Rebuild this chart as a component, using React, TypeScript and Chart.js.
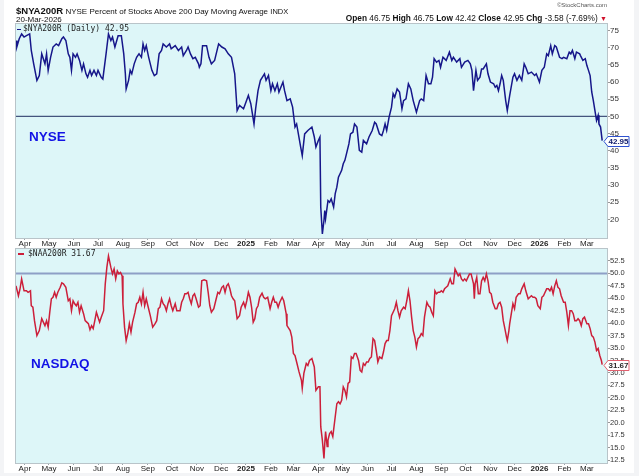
import React, { useEffect, useRef } from 'react';
import { Chart, registerables } from 'chart.js';

Chart.register(...registerables);

const FONT = '"Liberation Sans", Arial, Helvetica, sans-serif';
const MONO = '"DejaVu Sans Mono", monospace';

// ---------- text ----------
const symbolTop = '$NYA200R';
const symbolBottom = '$NAA200R';
const titleText = 'NYSE Percent of Stocks Above 200 Day Moving Average';
const exchangeText = 'INDX';
const dateText = '20-Mar-2026';
const creditText = '\u00A9StockCharts.com';
const ohlcOpen = 46.75;
const ohlcHigh = 46.75;
const ohlcLow = 42.42;
const ohlcClose = 42.95;
const ohlcChg = -3.58;
const ohlcChgPct = -7.69;
const panelNameTop = 'NYSE';
const panelNameBottom = 'NASDAQ';

// ---------- time axis ----------
const BASE_DATE = '2024-04-01';
const AXIS_START = '2024-03-21';
const AXIS_END = '2026-03-26';
const monthStarts = [
  '2024-04-01', '2024-05-01', '2024-06-01', '2024-07-01', '2024-08-01', '2024-09-01',
  '2024-10-01', '2024-11-01', '2024-12-01', '2025-01-01', '2025-02-01', '2025-03-01',
  '2025-04-01', '2025-05-01', '2025-06-01', '2025-07-01', '2025-08-01', '2025-09-01',
  '2025-10-01', '2025-11-01', '2025-12-01', '2026-01-01', '2026-02-01', '2026-03-01',
];
const monthLabels = [
  'Apr', 'May', 'Jun', 'Jul', 'Aug', 'Sep', 'Oct', 'Nov', 'Dec', '2025', 'Feb', 'Mar',
  'Apr', 'May', 'Jun', 'Jul', 'Aug', 'Sep', 'Oct', 'Nov', 'Dec', '2026', 'Feb', 'Mar',
];

// ---------- NYSE series (calendar days after 2024-04-01, percent) ----------
const nyseDays = [
  -11, -10, -7, -4, -1, 2, 6, 8, 11, 15,
  18, 21, 25, 27, 29, 32, 35, 39, 42, 46,
  48, 51, 54, 56, 58, 60, 63, 65, 68, 71,
  73, 76, 78, 81, 83, 86, 89, 91, 95, 97,
  101, 104, 107, 109, 112, 116, 120, 123, 125, 126,
  129, 131, 133, 136, 139, 142, 145, 147, 149, 151,
  154, 158, 161, 164, 167, 170, 172, 176, 180, 182,
  187, 191, 195, 197, 201, 203, 206, 209, 212, 216,
  217, 219, 221, 226, 229, 232, 236, 241, 245, 249,
  253, 257, 261, 264, 267, 272, 278, 281, 285, 287,
  290, 293, 298, 300, 303, 306, 308, 311, 314, 316,
  321, 323, 326, 330, 333, 336, 338, 343, 345, 348,
  352, 357, 360, 362, 365, 367, 368, 370, 372, 373,
  374, 377, 379, 381, 384, 386, 388, 390, 392, 394,
  396, 398, 400, 403, 405, 408, 410, 413, 416, 419,
  421, 425, 428, 432, 435, 437, 441, 444, 446, 448,
  450, 453, 456, 458, 460, 463, 466, 469, 471, 474,
  477, 480, 483, 487, 491, 493, 496, 499, 502, 505,
  507, 509, 512, 515, 517, 520, 524, 528, 531, 533,
  537, 541, 543, 547, 551, 554, 556, 558, 561, 563,
  566, 568, 570, 574, 576, 579, 583, 585, 587, 589,
  591, 593, 595, 598, 600, 603, 607, 609, 612, 615,
  618, 621, 623, 626, 630, 634, 636, 640, 643, 646,
  649, 651, 654, 656, 659, 661, 665, 668, 670, 674,
  677, 679, 681, 684, 686, 690, 691, 694, 697, 699,
  701, 703, 705, 707, 709, 711, 713, 714, 716, 718,
];
const nyseValues = [
  72.1, 70.2, 72.6, 74.0, 73.1, 73.5, 74.0, 69.2, 65.3, 60.5,
  61.9, 68.2, 65.3, 68.2, 63.4, 67.2, 70.2, 71.1, 70.6, 72.6,
  73.1, 72.1, 68.2, 67.2, 63.4, 68.2, 67.2, 68.2, 66.3, 63.4,
  65.3, 62.4, 61.4, 63.4, 61.9, 63.4, 61.9, 63.4, 61.4, 60.9,
  68.2, 74.0, 72.1, 73.1, 70.2, 73.5, 73.5, 68.2, 62.4, 58.0,
  60.5, 63.4, 62.4, 65.3, 67.2, 68.2, 67.2, 71.1, 69.2, 70.6,
  67.2, 63.4, 61.9, 62.4, 68.2, 69.2, 71.1, 70.2, 71.1, 69.7,
  70.6, 69.2, 70.2, 67.7, 69.2, 70.2, 68.2, 66.8, 67.2, 65.3,
  64.3, 65.3, 70.6, 70.6, 67.2, 65.3, 66.3, 71.1, 70.2, 69.7,
  68.2, 67.2, 62.4, 51.7, 53.2, 52.2, 56.1, 53.7, 47.8, 52.2,
  57.5, 60.5, 62.4, 60.5, 61.9, 57.5, 59.5, 57.5, 59.5, 57.1,
  60.0, 57.5, 54.6, 55.1, 52.7, 46.9, 47.8, 41.1, 38.6, 44.9,
  45.9, 46.9, 44.0, 41.1, 43.0, 44.0, 23.6, 15.8, 19.7, 22.6,
  20.2, 25.5, 25.0, 26.0, 23.6, 27.5, 29.4, 32.3, 33.3, 34.3,
  36.2, 37.2, 39.1, 42.0, 44.9, 45.4, 47.8, 46.9, 40.1, 39.6,
  43.0, 42.0, 44.0, 45.9, 48.3, 47.8, 44.9, 44.4, 45.9, 47.8,
  45.9, 49.8, 52.7, 56.6, 55.6, 58.0, 57.1, 52.2, 54.6, 55.1,
  59.5, 58.0, 54.6, 51.2, 54.6, 55.1, 54.6, 61.9, 59.5, 59.5,
  61.4, 66.8, 65.8, 66.3, 64.3, 67.2, 66.3, 68.7, 66.3, 67.2,
  65.8, 66.8, 64.3, 65.8, 66.3, 65.3, 63.4, 57.5, 63.4, 60.5,
  61.4, 63.8, 63.8, 65.3, 62.4, 60.0, 59.5, 58.5, 59.0, 57.5,
  59.5, 61.9, 60.5, 54.6, 51.7, 56.1, 61.4, 62.4, 60.5, 61.9,
  60.5, 65.3, 64.3, 62.4, 62.9, 61.9, 62.4, 60.0, 63.4, 64.3,
  68.2, 67.7, 70.6, 68.2, 70.6, 70.2, 67.2, 66.8, 67.2, 66.8,
  68.7, 68.2, 69.2, 66.8, 68.7, 68.2, 67.7, 66.3, 66.8, 64.8,
  63.4, 61.9, 57.1, 54.6, 51.7, 48.8, 50.3, 47.8, 46.9, 42.95,
];
const nyseTicks = [20, 25, 30, 35, 40, 45, 50, 55, 60, 65, 70, 75];

// ---------- NASDAQ series (calendar days after 2024-04-01, percent) ----------
const nasdaqDays = [
  -11, -8, -6, -4, -1, 2, 4, 7, 8, 10,
  12, 15, 18, 21, 23, 25, 27, 29, 31, 33,
  35, 37, 39, 41, 44, 46, 48, 51, 54, 56,
  58, 60, 62, 64, 66, 68, 70, 73, 75, 77,
  79, 81, 83, 85, 87, 89, 91, 93, 95, 98,
  100, 102, 104, 107, 109, 111, 113, 115, 117, 119,
  121, 122, 124, 126, 128, 130, 132, 134, 137, 139,
  141, 143, 145, 147, 149, 151, 153, 156, 159, 162,
  164, 166, 168, 170, 172, 174, 176, 178, 180, 182,
  184, 187, 189, 193, 195, 197, 199, 201, 203, 205,
  207, 209, 211, 213, 216, 218, 220, 223, 226, 228,
  230, 232, 235, 238, 240, 242, 245, 247, 249, 251,
  253, 255, 257, 259, 261, 264, 267, 269, 272, 274,
  276, 278, 280, 282, 284, 286, 288, 290, 292, 295,
  297, 299, 302, 305, 307, 309, 311, 313, 315, 317,
  320, 322, 325, 326, 330, 332, 334, 336, 338, 341,
  344, 345, 347, 350, 352, 354, 357, 360, 362, 365,
  367, 368, 370, 372, 373, 374, 376, 377, 379, 381,
  383, 386, 388, 390, 392, 394, 396, 398, 400, 402,
  404, 406, 408, 410, 412, 415, 417, 419, 421, 423,
  425, 427, 429, 431, 433, 435, 437, 439, 441, 444,
  446, 448, 450, 452, 454, 456, 458, 460, 462, 464,
  466, 468, 471, 473, 475, 477, 479, 481, 483, 485,
  487, 489, 491, 493, 495, 497, 500, 502, 504, 506,
  508, 510, 512, 514, 516, 518, 520, 522, 524, 526,
  529, 531, 533, 535, 537, 539, 541, 543, 545, 547,
  549, 551, 553, 555, 558, 559, 560, 562, 564, 566,
  568, 570, 572, 574, 576, 578, 580, 582, 585, 587,
  589, 591, 593, 595, 597, 599, 600, 602, 603, 605,
  607, 609, 611, 614, 616, 618, 621, 623, 626, 628,
  630, 632, 634, 636, 638, 641, 643, 645, 647, 649,
  651, 653, 655, 657, 659, 661, 663, 665, 667, 670,
  672, 674, 676, 678, 680, 682, 684, 686, 688, 690,
  692, 694, 696, 699, 701, 703, 705, 707, 709, 711,
  713, 715, 717, 718,
];
const nasdaqValues = [
  47.5, 45.5, 46.9, 48.9, 46.5, 46.5, 46.2, 46.5, 43.5, 43.2,
  40.5, 37.5, 38.5, 40.9, 40.2, 39.5, 40.5, 39.2, 42.2, 44.9,
  45.2, 46.2, 45.2, 46.2, 47.2, 48.1, 47.9, 47.2, 44.5, 44.9,
  42.5, 44.5, 43.9, 43.5, 44.2, 42.2, 43.5, 41.9, 40.5, 40.2,
  39.9, 38.7, 39.5, 38.9, 40.5, 42.2, 41.2, 40.2, 41.2, 42.5,
  47.9, 51.2, 53.5, 51.2, 49.9, 50.9, 48.9, 50.5, 49.9, 50.2,
  49.5, 43.9, 39.2, 36.5, 37.9, 39.9, 38.2, 40.2, 42.2, 43.9,
  44.2, 45.2, 43.9, 46.2, 43.5, 44.9, 43.5, 41.5, 39.2, 39.9,
  40.5, 42.9, 43.2, 44.9, 43.9, 43.5, 42.5, 43.9, 44.9, 43.5,
  42.5, 43.9, 42.5, 42.5, 44.2, 44.9, 45.9, 45.9, 46.2, 44.9,
  43.9, 45.5, 45.9, 44.9, 43.2, 43.5, 48.5, 48.7, 48.5, 46.2,
  43.5, 42.2, 42.9, 44.9, 46.2, 45.9, 47.2, 47.5, 46.2, 47.5,
  47.9, 46.9, 45.5, 44.9, 44.5, 40.9, 41.5, 43.2, 44.2, 43.2,
  44.5, 46.2, 45.2, 43.2, 40.2, 40.9, 42.9, 43.5, 45.2, 46.0,
  45.2, 44.9, 45.2, 42.9, 44.2, 45.2, 44.2, 44.2, 43.2, 44.2,
  45.2, 44.5, 41.9, 39.5, 38.5, 37.2, 33.9, 33.5, 32.2, 30.2,
  28.5, 26.9, 29.9, 31.9, 31.5, 32.5, 32.9, 31.2, 26.5, 27.2,
  27.2, 19.2, 16.5, 12.8, 15.8, 18.2, 15.2, 16.5, 17.8, 18.2,
  17.2, 21.2, 23.8, 24.2, 23.8, 24.5, 27.2, 26.5, 25.2, 27.9,
  28.2, 33.2, 32.9, 33.9, 33.9, 32.5, 30.5, 30.2, 31.9, 31.5,
  32.2, 32.2, 32.9, 33.2, 36.9, 36.5, 34.5, 32.2, 33.2, 32.9,
  34.2, 35.9, 36.5, 36.5, 38.5, 41.5, 42.2, 42.9, 44.2, 42.5,
  41.2, 42.5, 43.2, 42.9, 44.5, 46.5, 44.5, 41.2, 38.5, 37.2,
  35.2, 36.9, 37.2, 37.9, 37.5, 41.2, 44.2, 43.5, 43.2, 42.2,
  41.5, 46.5, 45.9, 46.2, 46.2, 46.5, 46.2, 46.9, 47.2, 47.5,
  48.9, 47.9, 47.9, 50.9, 50.2, 49.5, 49.9, 48.9, 48.5, 48.9,
  48.5, 49.2, 49.9, 49.9, 47.9, 44.9, 47.9, 49.2, 45.9, 45.9,
  48.5, 49.2, 48.5, 49.9, 48.5, 46.2, 45.9, 44.2, 42.9, 42.9,
  43.9, 44.2, 43.2, 40.5, 38.9, 37.2, 36.5, 38.5, 39.9, 41.9,
  43.9, 42.9, 45.2, 45.9, 45.9, 46.9, 47.9, 46.5, 44.9, 45.2,
  45.5, 45.2, 45.2, 44.9, 43.5, 42.9, 45.2, 45.5, 46.2, 46.9,
  46.9, 46.5, 47.2, 45.9, 47.5, 48.5, 47.2, 46.9, 45.5, 44.2,
  44.2, 42.2, 39.5, 42.5, 42.5, 41.9, 40.5, 40.5, 40.9, 40.5,
  39.5, 40.9, 41.2, 39.9, 39.9, 38.9, 37.5, 37.2, 36.2, 34.5,
  34.9, 33.5, 32.5, 31.67,
];
const nasdaqTicks = [12.5, 15, 17.5, 20, 22.5, 25, 27.5, 30, 32.5, 35, 37.5, 40, 42.5, 45, 47.5, 50, 52.5];

const REF_LEVEL = 50;

// ---------- helpers ----------
const dayOf = (iso: string) =>
  Math.round((Date.parse(iso + 'T00:00:00Z') - Date.parse(BASE_DATE + 'T00:00:00Z')) / 86400000);
const monthDays = monthStarts.map(dayOf);
const labelForDay = (v: number) => {
  const i = monthDays.indexOf(Math.round(v));
  return i >= 0 ? monthLabels[i] : '';
};
const isYearLabel = (v: number) => /^\d{4}$/.test(labelForDay(v));

type PanelProps = {
  top: number;
  height: number;
  padTop: number;
  xAxisH: number;
  days: number[];
  values: number[];
  color: string;
  yMin: number;
  yMax: number;
  yTicks: number[];
  yDecimals: number;
  yFontSize: number;
  refColor: string;
  refWidth: number;
  boxStroke: string;
  boxText: string;
};

function Panel(p: PanelProps) {
  const ref = useRef<HTMLCanvasElement | null>(null);
  useEffect(() => {
    const canvas = ref.current;
    if (!canvas) return;
    const deco = {
      id: 'panelDeco',
      beforeDraw(chart: any) {
        const { ctx, chartArea: a } = chart;
        ctx.save();
        ctx.fillStyle = '#ddf6f8';
        ctx.fillRect(a.left, a.top, a.right - a.left, a.bottom - a.top);
        ctx.restore();
      },
      beforeDatasetsDraw(chart: any) {
        const { ctx, chartArea: a } = chart;
        const y = chart.scales.y.getPixelForValue(REF_LEVEL);
        ctx.save();
        ctx.strokeStyle = p.refColor;
        ctx.lineWidth = p.refWidth;
        ctx.beginPath();
        ctx.moveTo(a.left, y);
        ctx.lineTo(a.right, y);
        ctx.stroke();
        ctx.restore();
      },
      afterDraw(chart: any) {
        const { ctx, chartArea: a } = chart;
        ctx.save();
        ctx.strokeStyle = '#b9c4c9';
        ctx.lineWidth = 1;
        ctx.strokeRect(a.left - 0.5, a.top - 0.5, a.right - a.left + 1, a.bottom - a.top + 1);
        const last = p.values[p.values.length - 1];
        const y = Math.round(chart.scales.y.getPixelForValue(last)) + 0.5;
        const x0 = a.right - 3;
        const x1 = a.right + 1;
        const x2 = a.right + 22;
        const h = 5;
        ctx.beginPath();
        ctx.moveTo(x0, y);
        ctx.lineTo(x1, y - h);
        ctx.lineTo(x2, y - h);
        ctx.lineTo(x2, y + h);
        ctx.lineTo(x1, y + h);
        ctx.closePath();
        ctx.fillStyle = '#ffffff';
        ctx.fill();
        ctx.strokeStyle = p.boxStroke;
        ctx.lineWidth = 1;
        ctx.stroke();
        ctx.fillStyle = p.boxText;
        ctx.font = 'bold 8px ' + FONT;
        ctx.textAlign = 'left';
        ctx.textBaseline = 'middle';
        ctx.fillText(last.toFixed(2), a.right + 1.5, y + 0.5);
        ctx.restore();
      },
    };
    const chart = new Chart(canvas, {
      type: 'line',
      data: {
        datasets: [
          {
            data: p.days.map((d, i) => ({ x: d, y: p.values[i] })),
            borderColor: p.color,
            borderWidth: 1.5,
            pointRadius: 0,
            tension: 0,
            fill: false,
          },
        ],
      },
      options: {
        animation: false,
        responsive: false,
        maintainAspectRatio: false,
        layout: { padding: { left: 16, top: p.padTop, right: 0, bottom: 0 } },
        plugins: { legend: { display: false }, tooltip: { enabled: false }, title: { display: false } },
        scales: {
          x: {
            type: 'linear',
            position: 'bottom',
            min: dayOf(AXIS_START),
            max: dayOf(AXIS_END),
            afterBuildTicks: (s: any) => {
              s.ticks = monthDays.map((v) => ({ value: v }));
            },
            afterFit: (s: any) => {
              s.height = p.xAxisH;
            },
            ticks: {
              autoSkip: false,
              maxRotation: 0,
              minRotation: 0,
              padding: 0,
              color: '#222',
              font: (c: any) => ({
                family: FONT,
                size: 8,
                lineHeight: 1,
                weight: c.tick && isYearLabel(c.tick.value) ? 'bold' : 'normal',
              }),
              callback: (v: any) => labelForDay(Number(v)),
            },
            grid: { drawOnChartArea: false, drawTicks: true, tickLength: 2, color: '#9aa4a8' },
            border: { display: false },
          },
          y: {
            type: 'linear',
            position: 'right',
            min: p.yMin,
            max: p.yMax,
            afterBuildTicks: (s: any) => {
              s.ticks = p.yTicks.map((v) => ({ value: v }));
            },
            afterFit: (s: any) => {
              s.width = 32;
            },
            ticks: {
              padding: 0,
              color: '#333',
              font: { family: FONT, size: p.yFontSize },
              callback: (v: any) => Number(v).toFixed(p.yDecimals),
            },
            grid: { drawOnChartArea: false, drawTicks: true, tickLength: 3, color: '#999' },
            border: { display: false },
          },
        },
      } as any,
      plugins: [deco],
    });
    return () => chart.destroy();
  }, []);
  return (
    <canvas
      ref={ref}
      width={639}
      height={p.height}
      style={{ position: 'absolute', left: 0, top: p.top, width: 639, height: p.height }}
    />
  );
}

export default function App() {
  const abs = (o: React.CSSProperties): React.CSSProperties => ({ position: 'absolute', whiteSpace: 'nowrap', ...o });
  return (
    <div style={abs({ left: 0, top: 0, width: 639, height: 476, background: '#f3f4f6', overflow: 'hidden', fontFamily: FONT, color: '#111' })}>
      <div style={abs({ left: 4, top: 0, width: 630, height: 473, background: '#ffffff' })} />
      <Panel
        top={0}
        height={250}
        padTop={24}
        xAxisH={12}
        days={nyseDays}
        values={nyseValues}
        color="#16168a"
        yMin={14.6}
        yMax={76.9}
        yTicks={nyseTicks}
        yDecimals={0}
        yFontSize={8}
        refColor="#44547e"
        refWidth={1.2}
        boxStroke="#2f52d0"
        boxText="#15206e"
      />
      <Panel
        top={238}
        height={238}
        padTop={11}
        xAxisH={13}
        days={nasdaqDays}
        values={nasdaqValues}
        color="#cc1f3a"
        yMin={11.9}
        yMax={54.9}
        yTicks={nasdaqTicks}
        yDecimals={1}
        yFontSize={7.5}
        refColor="#8e9fc6"
        refWidth={2}
        boxStroke="#e0606e"
        boxText="#2a2a2a"
      />
      {/* header */}
      <div style={abs({ left: 16, top: 6, fontSize: 9.5, lineHeight: '9.5px' })}>
        <span style={{ fontWeight: 'bold' }}>{symbolTop}</span>
        <span style={{ fontSize: 8 }}> {titleText} </span>
        <span style={{ fontSize: 7.5 }}> {exchangeText}</span>
      </div>
      <div style={abs({ left: 16, top: 16.4, fontSize: 8, lineHeight: '8px' })}>{dateText}</div>
      <div style={abs({ right: 32, top: 2.1, fontSize: 6, lineHeight: '6px', color: '#555' })}>{creditText}</div>
      <div style={abs({ right: 32, top: 14.2, fontSize: 8.3, lineHeight: '8.3px' })}>
        <b>Open</b> {ohlcOpen.toFixed(2)} <b>High</b> {ohlcHigh.toFixed(2)} <b>Low</b> {ohlcLow.toFixed(2)}{' '}
        <b>Close</b> {ohlcClose.toFixed(2)} <b>Chg</b> {ohlcChg.toFixed(2)} ({ohlcChgPct.toFixed(2)}%){' '}
        <span style={{ color: '#d0102a', fontSize: 7 }}>{'\u25BC'}</span>
      </div>
      {/* in-panel legends */}
      <div style={abs({ left: 17, top: 28.6, width: 4, height: 1.5, background: '#16168a' })} />
      <div style={abs({ left: 23, top: 25.4, fontFamily: MONO, fontSize: 8, lineHeight: '8px', color: '#222' })}>
        {symbolTop} (Daily) {nyseValues[nyseValues.length - 1].toFixed(2)}
      </div>
      <div style={abs({ left: 18, top: 253.2, width: 6, height: 1.5, background: '#cc1f3a' })} />
      <div style={abs({ left: 28, top: 250.2, fontFamily: MONO, fontSize: 8, lineHeight: '8px', color: '#222' })}>
        {symbolBottom} {nasdaqValues[nasdaqValues.length - 1].toFixed(2)}
      </div>
      <div style={abs({ left: 29, top: 130.4, fontSize: 13.5, lineHeight: '13.5px', fontWeight: 'bold', color: '#1212e6' })}>
        {panelNameTop}
      </div>
      <div style={abs({ left: 31, top: 357.4, fontSize: 13.5, lineHeight: '13.5px', fontWeight: 'bold', color: '#1212e6' })}>
        {panelNameBottom}
      </div>
    </div>
  );
}
